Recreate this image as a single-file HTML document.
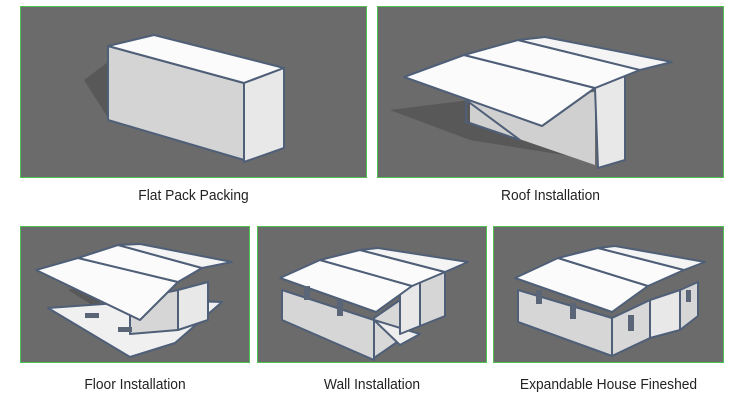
<!DOCTYPE html>
<html><head><style>
body{margin:0;background:#fff;width:750px;height:400px;overflow:hidden;font-family:"Liberation Sans",sans-serif}
.p{position:absolute;background:#6b6b6b;border:1px solid #4fc24f;box-sizing:border-box}
.l{position:absolute;font-size:15px;color:#222;text-align:center;transform:scaleX(0.92)}
svg{position:absolute;left:0;top:0}
</style></head><body>
<div class="p" style="left:20px;top:6px;width:347px;height:172px"></div>
<div class="p" style="left:377px;top:6px;width:347px;height:172px"></div>
<div class="p" style="left:20px;top:226px;width:230px;height:137px"></div>
<div class="p" style="left:257px;top:226px;width:230px;height:137px"></div>
<div class="p" style="left:493px;top:226px;width:231px;height:137px"></div>
<svg width="750" height="400">
<g stroke="#4f5f78" stroke-width="2" stroke-linejoin="round">
<polygon points="84,80 108,118 108,62" fill="#585858" stroke="none"/>
<polygon points="108,46 244,83 244,160 108,120" fill="#d4d4d4"/>
<polygon points="108,46 154,35 284,68 244,83" fill="#fbfbfb"/>
<polygon points="244,83 284,68 284,148 244,162" fill="#e8e8e8"/>
<polygon points="390,110 470,140 595,160 470,100" fill="#585858" stroke="none"/>
<polygon points="470,100 595,92 595,165 470,122" fill="#d0d0d0" stroke="none"/>
<polygon points="466,100 466,122 520,140" fill="none"/>
<polygon points="595,88 625,76 625,160 598,168" fill="#e8e8e8"/>
<polygon points="404,77 464,55 595,88 542,126" fill="#fbfbfb"/>
<polygon points="464,55 518,40 640,70 595,88" fill="#fbfbfb"/>
<polygon points="518,40 545,37 672,62 640,70" fill="#f4f4f4"/>
<polygon points="68,290 100,310 100,280" fill="#585858" stroke="none"/>
<polygon points="48,308 160,300 222,302 175,343 130,357" fill="#f0f0f0"/>
<polygon points="130,300 178,290 178,330 130,334" fill="#d6d6d6"/>
<polygon points="178,290 208,282 208,320 178,330" fill="#e8e8e8"/>
<polygon points="36,270 78,258 178,282 140,320" fill="#fbfbfb"/>
<polygon points="78,258 118,245 202,268 178,282" fill="#fbfbfb"/>
<polygon points="118,245 140,244 232,262 202,268" fill="#f4f4f4"/>
<polygon points="282,290 374,320 374,360 282,320" fill="#d6d6d6"/>
<polygon points="374,318 400,300 400,340 374,358" fill="#d8d8d8"/>
<polygon points="374,320 420,334 400,345" fill="#eee"/>
<polygon points="400,288 420,282 420,326 400,334" fill="#e8e8e8"/>
<polygon points="420,282 445,272 445,316 420,326" fill="#d6d6d6"/>
<polygon points="280,278 320,260 412,286 376,312" fill="#fbfbfb"/>
<polygon points="320,260 360,250 445,272 412,286" fill="#fbfbfb"/>
<polygon points="360,250 378,248 468,262 445,272" fill="#f4f4f4"/>
<polygon points="518,290 612,318 612,356 518,322" fill="#d6d6d6"/>
<polygon points="612,318 650,300 650,338 612,356" fill="#d8d8d8"/>
<polygon points="650,300 680,290 680,330 650,338" fill="#e8e8e8"/>
<polygon points="680,290 698,282 698,316 680,330" fill="#d6d6d6"/>
<polygon points="515,278 558,258 648,286 612,312" fill="#fbfbfb"/>
<polygon points="558,258 598,248 684,270 648,286" fill="#fbfbfb"/>
<polygon points="598,248 615,246 705,262 684,270" fill="#f4f4f4"/>
</g>
<g fill="#5a6578">
<rect x="304" y="286" width="6" height="14"/><rect x="337" y="300" width="6" height="16"/>
<rect x="536" y="290" width="6" height="14"/><rect x="570" y="303" width="6" height="16"/>
<rect x="628" y="315" width="6" height="16"/><rect x="686" y="290" width="5" height="12"/>
<rect x="85" y="313" width="14" height="5"/><rect x="118" y="327" width="14" height="5"/>
</g>
</svg>
<div class="l" style="left:20px;top:187px;width:347px">Flat Pack Packing</div>
<div class="l" style="left:377px;top:187px;width:347px">Roof Installation</div>
<div class="l" style="left:20px;top:376px;width:230px">Floor Installation</div>
<div class="l" style="left:257px;top:376px;width:230px">Wall Installation</div>
<div class="l" style="left:493px;top:376px;width:231px">Expandable House Fineshed</div>
</body></html>
